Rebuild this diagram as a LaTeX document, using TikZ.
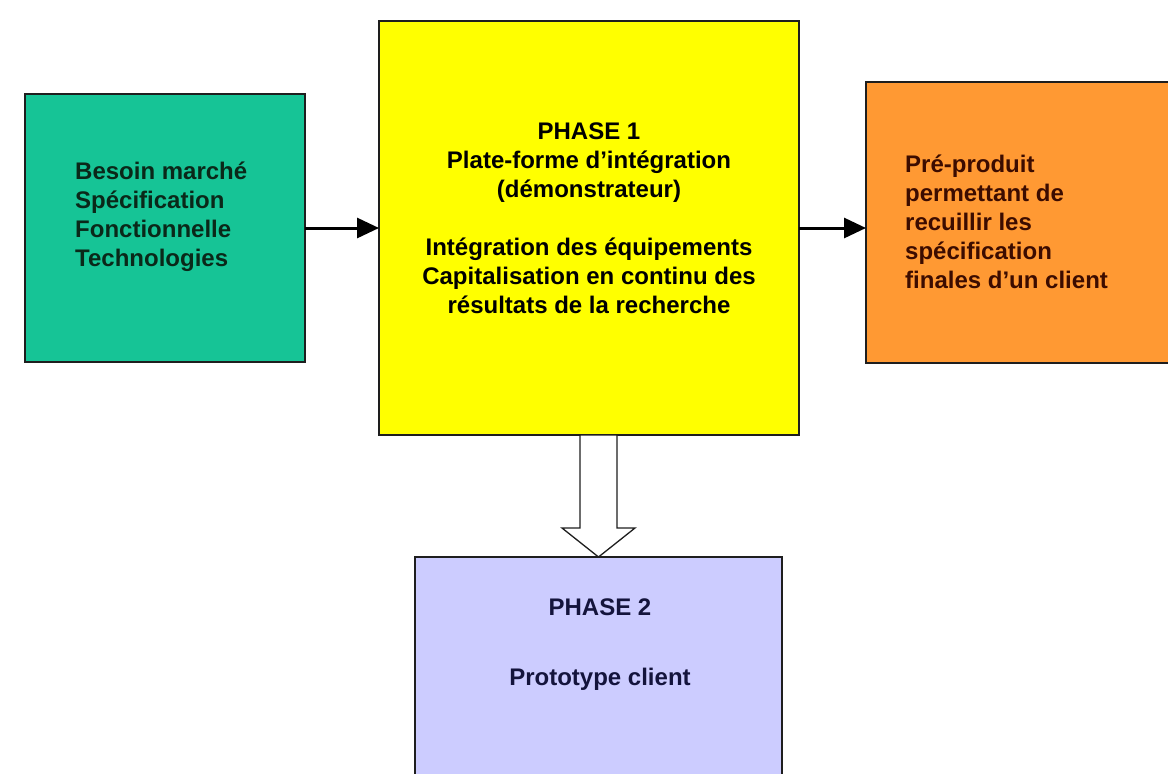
\documentclass[tikz,border=0pt]{standalone}
\usepackage{fontspec}
\setmainfont{Liberation Sans}
\usetikzlibrary{arrows.meta,calc}
\definecolor{boxgreen}{RGB}{22,196,150}
\definecolor{boxyellow}{RGB}{255,255,0}
\definecolor{boxorange}{RGB}{255,153,51}
\definecolor{boxblue}{RGB}{204,204,255}
\definecolor{txtgreen}{RGB}{10,40,25}
\definecolor{txtorange}{RGB}{60,12,0}
\definecolor{txtblue}{RGB}{20,20,60}
\definecolor{edge}{RGB}{30,30,30}
\begin{document}
\begin{tikzpicture}[x=1pt,y=-1pt,
  box/.style={draw=edge, line width=1.3pt, inner sep=0pt, outer sep=0pt},
  label/.style={inner sep=0pt, font=\fontsize{24}{29}\selectfont\bfseries},
  flow/.style={line width=3pt, -{Triangle[length=22pt,width=20pt]}},
  hollow/.style={draw=edge, line width=1.3pt, fill=white, line join=miter}]
\useasboundingbox (0,0) rectangle (1168,774);
\clip (0,0) rectangle (1168,774);

% boxes
\node[box, fill=boxgreen,  minimum width=280pt, minimum height=268pt] (need)    at (165,228) {};
\node[box, fill=boxyellow, minimum width=420pt, minimum height=414pt] (phase1)  at (589,228) {};
\node[box, fill=boxorange, minimum width=306pt, minimum height=281pt] (preprod) at (1019,222.5) {};
\node[box, fill=boxblue,   minimum width=367pt, minimum height=223pt] (proto)   at (598.5,668.5) {};

% texts
\node[label, text=txtgreen, anchor=west, align=left] (needtext) at (75,217)
  {Besoin marché\\Spécification\\Fonctionnelle\\Technologies};
\node[label, text=black, align=center] (phase1text) at (589,218)
  {PHASE 1\\Plate-forme d’intégration\\(démonstrateur)\\[29pt]Intégration des équipements\\Capitalisation en continu des\\résultats de la recherche};
\node[label, text=txtorange, anchor=west, align=left] (preprodtext) at (905,222)
  {Pré-produit\\permettant de\\recuillir les\\spécification\\finales d’un client};
\node[label, text=txtblue, align=center] (prototext) at (600,645)
  {PHASE 2\\[41pt]Prototype client};

% connectors
\draw[flow] (need.east) -- (phase1.west);
\draw[flow] (phase1.east) -- (phase1.east -| preprod.west);

% broad hollow arrow from phase 1 down to phase 2
\coordinate (stemL) at ($(proto.north)+(-18.5,0)$);
\coordinate (stemR) at ($(proto.north)+(18.5,0)$);
\draw[hollow] (proto.north) -- ++(-36.5,-29) -- ++(18,0)
  -- (stemL |- phase1.south) -- (stemR |- phase1.south)
  -- ($(stemR)+(0,-29)$) -- ++(18,0) -- cycle;
\end{tikzpicture}
\end{document}
